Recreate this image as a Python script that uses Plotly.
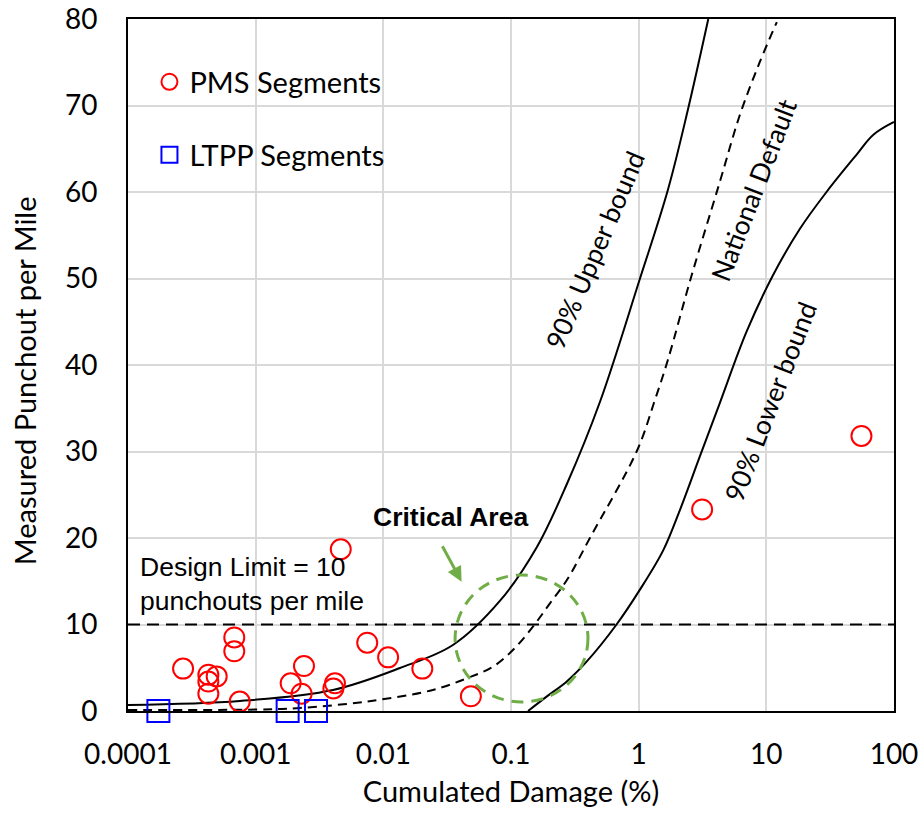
import plotly.graph_objects as go

# Measured segments: cumulated damage (%) and punchouts per mile
pms_damage = [2.7e-4, 4.26e-4, 4.95e-4, 4.26e-4, 4.26e-4, 6.8e-4, 6.8e-4, 7.5e-4,
              1.88e-3, 2.39e-3, 2.29e-3, 4.18e-3, 4.06e-3, 4.64e-3, 7.48e-3, 0.0109,
              0.0202, 0.0485, 3.14, 55.6]
pms_punchouts = [4.9, 4.2, 4.0, 3.4, 2.0, 8.5, 6.9, 1.1,
                 3.2, 5.2, 2.0, 3.2, 2.6, 18.7, 7.9, 6.2,
                 4.9, 1.7, 23.3, 31.8]

ltpp_damage = [1.73e-4, 1.78e-3, 2.97e-3]
ltpp_punchouts = [0, 0, 0]

# Transfer function curves
upper_damage = [1e-4, 7.53e-4, 4.03e-3, 0.0135, 0.0351, 0.0818, 0.1596, 0.274,
                0.497, 1.021, 1.693, 2.427, 3.51]
upper_po = [0.69, 1.16, 2.43, 4.97, 7.63, 12.72, 18.96, 26.24,
            35.72, 49.94, 60.23, 69.48, 80.0]

default_damage = [1e-4, 1e-3, 2.22e-3, 7.45e-3, 0.0244, 0.0451, 0.0722, 0.1035,
                  0.1485, 0.2018, 0.274, 0.415, 0.968, 1.340, 1.693, 2.564,
                  4.32, 6.20, 8.89, 12.08]
default_po = [0.12, 0.17, 0.35, 1.10, 2.43, 3.78, 5.12, 7.05,
              9.75, 12.45, 15.14, 20.0, 30.06, 35.95, 40.58, 50.06,
              61.16, 68.9, 75.03, 79.65]

lower_damage = [0.136, 0.190, 0.272, 0.391, 0.671, 1.02, 1.56, 2.10, 3.01,
                4.32, 7.0, 11.3, 18.28, 29.6, 50.8, 68.6, 100]
lower_po = [0, 1.66, 3.39, 5.70, 10.0, 14.0, 18.6, 23.2, 29.4,
            35.6, 43.85, 50.4, 55.72, 60.0, 64.3, 66.6, 68.1]

design_limit = 10
limit_damage = [1e-4, 105]

x_tickvals = [1e-4, 1e-3, 1e-2, 1e-1, 1, 10, 100]
x_ticktext = ["0.0001", "0.001", "0.01", "0.1", "1", "10", "100"]
y_tickvals = [0, 10, 20, 30, 40, 50, 60, 70, 80]

BODY_FONT = "Lato"
GREEN = "#70AD47"

fig = go.Figure()

fig.add_trace(go.Scatter(
    x=limit_damage, y=[design_limit, design_limit], mode="lines",
    line=dict(color="black", width=2, dash="12px,7px"),
    showlegend=False, hoverinfo="skip", cliponaxis=False))

fig.add_trace(go.Scatter(
    x=upper_damage, y=upper_po, mode="lines",
    line=dict(color="black", width=2, shape="spline", smoothing=1),
    showlegend=False))
fig.add_trace(go.Scatter(
    x=default_damage, y=default_po, mode="lines",
    line=dict(color="black", width=2, shape="spline", smoothing=1, dash="9px,6px"),
    showlegend=False))
fig.add_trace(go.Scatter(
    x=lower_damage, y=lower_po, mode="lines",
    line=dict(color="black", width=2, shape="spline", smoothing=1),
    showlegend=False))

fig.add_trace(go.Scatter(
    x=pms_damage, y=pms_punchouts, mode="markers", name="PMS Segments",
    marker=dict(symbol="circle-open", size=20, color="#FF0000",
                line=dict(width=2, color="#FF0000")),
    cliponaxis=False, legend="legend"))
fig.add_trace(go.Scatter(
    x=ltpp_damage, y=ltpp_punchouts, mode="markers", name="LTPP Segments",
    marker=dict(symbol="square-open", size=22, color="#0000FF",
                line=dict(width=2, color="#0000FF")),
    cliponaxis=False, legend="legend2"))

# Dashed ring around the critical area
fig.add_shape(type="circle", xref="paper", yref="paper",
              x0=0.427, x1=0.6005, y0=0.013, y1=0.1965,
              line=dict(color=GREEN, width=3, dash="12px,8px"))

annotations = [
    dict(x=-1.387, y=14.95, ax=-20, ay=-37, text="", showarrow=True,
         arrowhead=2, arrowsize=1, arrowwidth=3, arrowcolor=GREEN),
    dict(x=-1.471, y=22.4, text="<b>Critical Area</b>", showarrow=False,
         font=dict(family="Arial", size=26.5, color="black")),
    dict(x=-3.922, y=14.74, text="Design Limit = 10<br>punchouts per mile",
         showarrow=False, xanchor="left", align="left",
         font=dict(family="Arial", size=26.5, color="black")),
    dict(x=-0.343, y=53.3, text="90% Upper bound", textangle=-67, showarrow=False,
         font=dict(family=BODY_FONT, size=26.5, color="black")),
    dict(x=0.902, y=60.2, text="National Default", textangle=-69, showarrow=False,
         font=dict(family=BODY_FONT, size=26.5, color="black")),
    dict(x=1.035, y=35.8, text="90% Lower bound", textangle=-69, showarrow=False,
         font=dict(family=BODY_FONT, size=26.5, color="black")),
    dict(xref="paper", yref="paper", x=-0.1358, y=0.478,
         xanchor="center", yanchor="middle",
         text="Measured Punchout per Mile", textangle=-90, showarrow=False,
         font=dict(family=BODY_FONT, size=29, color="black")),
]

fig.update_layout(
    width=922, height=816,
    margin=dict(l=128, r=28, t=19, b=105, autoexpand=False),
    paper_bgcolor="white", plot_bgcolor="white",
    font=dict(family=BODY_FONT, color="black"),
    annotations=annotations,
    legend=dict(x=0.028, y=0.909, xanchor="left", yanchor="middle",
                font=dict(family=BODY_FONT, size=29, color="black"),
                bgcolor="rgba(0,0,0,0)"),
    legend2=dict(x=0.028, y=0.8035, xanchor="left", yanchor="middle",
                 font=dict(family=BODY_FONT, size=29, color="black"),
                 bgcolor="rgba(0,0,0,0)"),
)

fig.update_xaxes(
    type="log", range=[-4, 2],
    tickvals=x_tickvals, ticktext=x_ticktext,
    showgrid=True, gridcolor="#D9D9D9", gridwidth=2,
    showline=True, linecolor="black", linewidth=2, mirror=True,
    ticks="", ticklabelstandoff=17, zeroline=False,
    tickfont=dict(family=BODY_FONT, size=28, color="black"),
    title=dict(text="Cumulated Damage (%)", standoff=13,
               font=dict(family=BODY_FONT, size=29, color="black")),
)
fig.update_yaxes(
    range=[0, 80], tickvals=y_tickvals,
    showgrid=True, gridcolor="#D9D9D9", gridwidth=2,
    showline=True, linecolor="black", linewidth=2, mirror=True,
    ticks="", ticklabelstandoff=23, zeroline=False,
    tickfont=dict(family=BODY_FONT, size=28, color="black"),
)

fig.write_html("out.html")
